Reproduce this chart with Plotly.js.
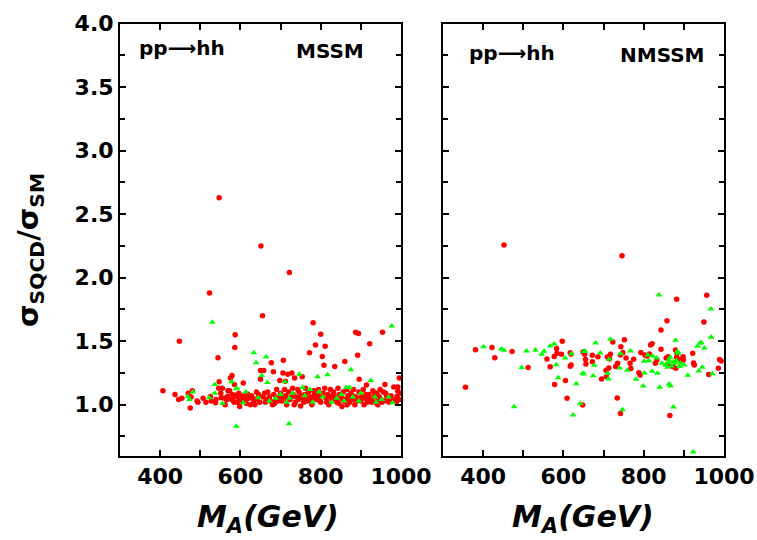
<!DOCTYPE html>
<html>
<head>
<meta charset="utf-8">
<script src="https://cdn.plot.ly/plotly-3.0.1.min.js"></script>
<style>html,body{margin:0;padding:0;background:#fff;}#chart{width:757px;height:540px;}</style>
</head>
<body>
<div id="chart"></div>
<script>
// ---- data: [M_A (GeV), sigma_SQCD/sigma_SM] ----
const mssmRed = [
[407,1.11],[437,1.08],[446,1.04],[448,1.50],[454,1.05],[470,1.09],[477,1.06],[475,0.975],[480,1.11],[492,1.03],
[494,1.02],[507,1.05],[514,1.02],[523,1.88],[525,1.065],[527,1.03],[539,1.04],[538,1.015],[544,1.37],[547,2.63],
[547,1.18],[546,1.13],[555,1.13],[551,1.09],[552,1.055],[562,1.0],[566,1.04],[569,1.11],[568,1.065],[573,1.11],
[575,1.21],[579,1.23],[580,1.08],[585,1.06],[585,1.16],[586,1.45],[587,1.55],[589,1.075],[584,1.02],[596,1.09],
[597,1.05],[600,1.02],[598,0.985],[607,1.17],[603,1.04],[610,1.06],[612,1.03],[618,1.085],[620,1.05],[625,1.0],
[628,1.07],[633,1.03],[640,1.10],[645,1.08],[641,1.045],[648,1.02],[650,1.27],[650,1.20],[651,2.25],[655,1.70],
[656,1.06],[658,1.27],[660,1.09],[665,1.04],[668,1.10],[672,1.06],[677,1.33],[680,1.0],[682,1.26],[683,1.08],
[688,1.04],[690,1.12],[695,1.06],[698,1.19],[700,1.09],[703,1.03],[706,1.25],[707,1.35],[710,1.12],[712,1.185],
[713,1.07],[715,1.0],[718,1.24],[720,1.10],[722,2.04],[724,1.04],[728,1.25],[730,1.13],[732,1.08],[735,1.21],
[737,1.02],[740,1.06],[743,1.12],[746,1.10],[750,0.99],[754,1.22],[755,1.05],[760,1.08],[762,1.13],[766,1.03],
[770,1.10],[772,1.41],[775,1.06],[778,1.0],[781,1.645],[783,1.11],[785,1.08],[787,1.47],[790,1.04],[794,1.12],
[797,1.06],[800,1.555],[800,1.02],[804,1.38],[806,1.09],[808,1.31],[810,1.13],[811,1.46],[813,1.05],[818,1.08],
[820,1.0],[824,1.12],[828,1.04],[832,1.10],[835,1.30],[836,1.06],[840,1.02],[843,1.13],[846,1.08],[850,1.05],
[853,0.985],[856,1.10],[860,1.34],[862,1.04],[865,1.12],[868,1.07],[872,1.02],[875,1.09],[878,1.04],[882,1.12],
[885,1.0],[887,1.57],[888,1.06],[892,1.39],[894,1.56],[895,1.10],[896,1.20],[900,1.03],[903,1.07],[906,1.12],
[910,1.05],[914,1.155],[916,1.02],[920,1.08],[922,1.48],[925,1.04],[930,1.11],[933,1.06],[937,1.02],[940,1.09],
[944,1.04],[948,1.12],[952,1.02],[954,1.57],[956,1.10],[960,1.16],[962,1.09],[966,1.05],[970,1.02],[975,1.07],
[982,1.14],[985,1.04],[990,1.065],[992,1.14],[992,1.105],[996,1.21],[998,1.09],
[560,1.05],[578,1.04],[592,1.02],[605,1.07],[615,1.01],[630,1.05],[636,1.0],[662,1.02],[675,1.03],[685,1.01],
[693,1.03],[705,1.06],[716,1.04],[727,1.06],[734,1.0],[745,1.04],[752,1.07],[758,1.02],[764,1.06],[773,1.03],
[780,1.05],[792,1.08],[798,1.03],[815,1.02],[822,1.06],[830,1.07],[838,1.04],[845,1.01],[852,1.07],[858,1.03],
[866,1.0],[870,1.05],[880,1.07],[890,1.03],[898,1.05],[908,1.0],[912,1.08],[918,1.04],[928,1.02],[935,1.08],
[942,1.0],[946,1.06],[950,1.04],[958,1.03],[964,1.07],[972,1.04],[978,1.03],[988,1.02],[995,1.04]
];
const mssmGreen = [
[469,1.065],[473,1.04],[481,1.10],[522,1.055],[530,1.65],[536,1.16],[536,1.09],[555,1.01],[578,1.18],[590,1.125],
[590,0.83],[591,1.13],[607,1.015],[613,1.10],[633,1.41],[639,1.33],[644,1.055],[653,1.23],[664,1.375],[667,1.175],
[672,1.03],[688,1.05],[700,1.08],[711,1.18],[715,1.02],[721,0.85],[722,1.05],[730,1.09],[747,1.24],[755,1.135],
[760,1.07],[773,1.12],[780,1.02],[792,1.22],[796,1.10],[805,1.06],[817,1.235],[828,1.02],[840,1.05],[852,1.08],
[858,1.03],[864,1.135],[872,1.135],[875,1.275],[880,1.06],[895,1.03],[900,1.09],[925,1.19],[935,1.06],[938,1.02],
[952,1.04],[969,1.06],[977,1.62],[979,1.015]
];
const nmssmRed = [
[356,1.138],[381,1.433],[422,1.45],[429,1.37],[452,2.257],[472,1.418],[512,1.293],[559,1.36],[567,1.298],[577,1.38],
[578,1.16],[583,1.442],[584,1.405],[595,1.397],[597,1.50],[605,1.19],[609,1.05],[617,1.41],[619,1.40],[617,1.303],
[619,1.312],[648,0.998],[649,1.415],[653,1.397],[655,1.355],[656,1.32],[672,1.389],[672,1.339],[686,1.378],[695,1.202],
[706,1.271],[707,1.223],[709,1.376],[713,1.289],[715,1.36],[717,1.397],[723,1.494],[730,1.30],[734,1.053],[735,1.326],
[742,1.391],[742,0.93],[743,1.457],[746,2.173],[748,1.412],[752,1.512],[756,1.368],[766,1.326],[768,1.286],[775,1.357],
[788,1.252],[791,1.234],[793,1.412],[803,1.391],[808,1.384],[814,1.40],[817,1.47],[821,1.48],[829,1.326],[833,1.352],
[843,1.436],[843,1.588],[856,1.368],[858,1.662],[861,1.378],[861,1.32],[865,0.914],[872,1.30],[879,1.431],[880,1.287],
[882,1.373],[882,1.83],[883,1.405],[889,1.352],[898,1.378],[899,1.352],[922,1.405],[924,1.328],[926,1.313],[950,1.651],
[957,1.861],[962,1.237],[986,1.287],[989,1.355],[993,1.344]
];
const nmssmGreen = [
[401,1.457],[445,1.439],[452,1.429],[477,0.983],[496,1.292],[508,1.423],[530,1.43],[546,1.398],[552,1.42],[567,1.463],
[577,1.478],[582,1.314],[587,1.213],[604,1.368],[620,1.402],[624,0.919],[632,1.165],[642,1.009],[648,1.247],[651,1.242],
[651,1.418],[654,1.422],[674,1.228],[677,1.31],[680,1.485],[692,1.407],[710,1.245],[712,1.202],[714,1.358],[717,1.515],
[740,1.289],[743,1.402],[747,0.961],[759,1.271],[767,1.423],[781,1.20],[799,1.147],[801,1.342],[802,1.25],[810,1.391],
[813,1.347],[821,1.263],[822,1.384],[832,1.368],[834,1.247],[838,1.863],[840,1.137],[845,1.326],[854,1.313],[859,1.294],
[861,1.331],[863,1.352],[863,1.163],[866,1.373],[867,1.147],[869,1.305],[874,1.339],[874,0.982],[878,1.326],[879,1.507],
[882,1.347],[884,1.418],[886,1.405],[889,1.30],[892,1.326],[901,1.313],[910,1.231],[923,0.628],[934,1.46],[937,1.265],
[940,1.483],[943,1.489],[946,1.294],[951,1.447],[967,1.754],[968,1.531],[971,1.244]
];
const xTickVals = [400, 600, 800, 1000];
const xTickText = ['400', '600', '800', '1000'];
const yTickVals = [1.0, 1.5, 2.0, 2.5, 3.0, 3.5, 4.0];
const yTickText = ['1.0', '1.5', '2.0', '2.5', '3.0', '3.5', '4.0'];
const panelLabels = ['MSSM', 'NMSSM'];
const processLabel = 'pp\u27F6hh';

// ---- drawing ----
const W = 757, H = 540;
const FONT = 'DejaVu Sans, Liberation Sans, Arial, sans-serif';
const RED = '#ff0000', GREEN = '#00ff00';
function xs(a){return a.map(p=>p[0]);}
function ys(a){return a.map(p=>p[1]);}
function redTrace(a, xa, ya){return {x:xs(a), y:ys(a), xaxis:xa, yaxis:ya, type:'scatter', mode:'markers',
  marker:{symbol:'circle', size:5.5, color:RED, line:{width:0}}, hoverinfo:'x+y', showlegend:false};}
function greenTrace(a, xa, ya){return {x:xs(a), y:ys(a), xaxis:xa, yaxis:ya, type:'scatter', mode:'markers',
  marker:{symbol:'triangle-up', size:6, color:GREEN, line:{width:0}}, hoverinfo:'x+y', showlegend:false};}

const traces = [
  redTrace(mssmRed,'x','y'), greenTrace(mssmGreen,'x','y'),
  redTrace(nmssmRed,'x2','y2'), greenTrace(nmssmGreen,'x2','y2')
];

const yTop = 23.7, yBot = 455.5;
const yDom = [1 - yBot/H, 1 - yTop/H];
const xDom1 = [120/W, 401/W], xDom2 = [443/W, 724/W];
const tickFont = {family: FONT, size: 22, color:'#000', weight:'bold'};

function xAxis(dom, anchor){
  return {domain:dom, anchor:anchor, range:[300,1000], showgrid:false, zeroline:false,
    showline:true, linewidth:2, linecolor:'#000', mirror:'ticks',
    ticks:'inside', ticklen:6, tickwidth:2, tickcolor:'#000',
    tickmode:'array', tickvals:xTickVals, ticktext:xTickText, tickfont:tickFont,
    minor:{dtick:100, tick0:0, ticks:'inside', ticklen:6, tickwidth:2, tickcolor:'#000', showgrid:false},
    fixedrange:true};
}
function yAxis(anchor, labels){
  return {domain:yDom, anchor:anchor, range:[0.6,4.0], showgrid:false, zeroline:false,
    showline:true, linewidth:2, linecolor:'#000', mirror:'ticks',
    ticks:'inside', ticklen:6, tickwidth:2, tickcolor:'#000',
    tickmode:'array', tickvals:yTickVals, ticktext:yTickText, tickfont:tickFont,
    showticklabels:labels,
    minor:{dtick:0.25, tick0:0, ticks:'inside', ticklen:5, tickwidth:2, tickcolor:'#000', showgrid:false},
    fixedrange:true};
}

const annFont = {family: FONT, size: 20, color:'#000', weight:'bold'};
const titleFont = {family: FONT, size: 30, color:'#000', weight:'bold'};
const annotations = [
  {xref:'paper', yref:'paper', x:137/W, y:1-48/H, xanchor:'left', yanchor:'middle', text:processLabel, showarrow:false, font:annFont},
  {xref:'paper', yref:'paper', x:294/W, y:1-51/H, xanchor:'left', yanchor:'middle', text:panelLabels[0], showarrow:false, font:annFont},
  {xref:'paper', yref:'paper', x:467/W, y:1-53/H, xanchor:'left', yanchor:'middle', text:processLabel, showarrow:false, font:annFont},
  {xref:'paper', yref:'paper', x:618/W, y:1-55/H, xanchor:'left', yanchor:'middle', text:panelLabels[1], showarrow:false, font:annFont},
  {xref:'paper', yref:'paper', x:268/W, y:1-518/H, xanchor:'center', yanchor:'middle',
    text:'<i>M<sub>A</sub>(GeV)</i>', showarrow:false, font:titleFont},
  {xref:'paper', yref:'paper', x:583/W, y:1-518/H, xanchor:'center', yanchor:'middle',
    text:'<i>M<sub>A</sub>(GeV)</i>', showarrow:false, font:titleFont},
  {xref:'paper', yref:'paper', x:30/W, y:1-250/H, xanchor:'center', yanchor:'middle', textangle:-90,
    text:'\u03C3<sub>SQCD</sub>/\u03C3<sub>SM</sub>', showarrow:false, font:{family:FONT, size:29, color:'#000', weight:'bold'}}
];

const layout = {
  width:W, height:H, margin:{l:0, r:0, t:0, b:0},
  paper_bgcolor:'#fff', plot_bgcolor:'#fff', showlegend:false,
  xaxis:xAxis(xDom1,'y'), yaxis:yAxis('x', true),
  xaxis2:xAxis(xDom2,'y2'), yaxis2:yAxis('x2', false),
  annotations:annotations
};
Plotly.newPlot('chart', traces, layout, {staticPlot:true, displayModeBar:false});
</script>
</body>
</html>
